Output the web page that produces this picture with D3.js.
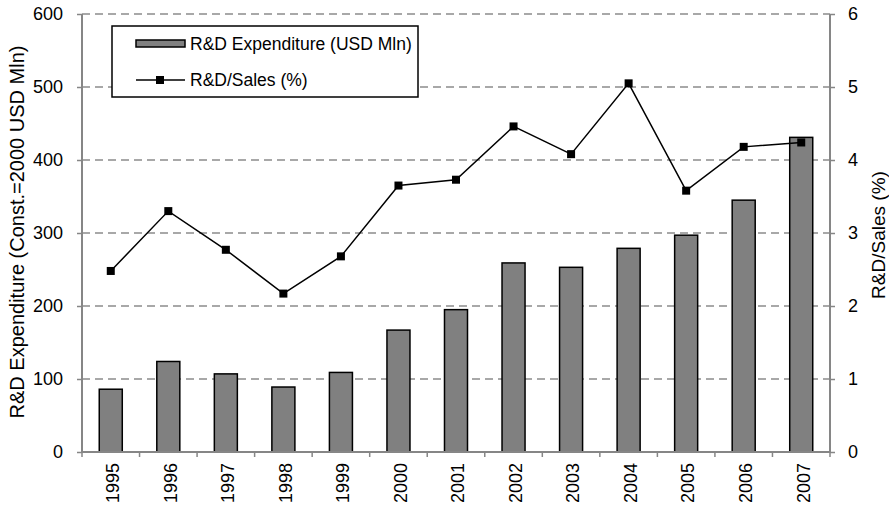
<!DOCTYPE html>
<html>
<head>
<meta charset="utf-8">
<script src="https://cdnjs.cloudflare.com/ajax/libs/d3/7.8.5/d3.min.js"></script>
<style>
  body { margin: 0; background: #fff; }
  text { font-family: "Liberation Sans", Arial, sans-serif; fill: #000; }
</style>
</head>
<body>
<div class="chart"></div>
<script>
  // data
  var years      = ["1995","1996","1997","1998","1999","2000","2001","2002","2003","2004","2005","2006","2007"];
  var expenditure = [86, 124, 107, 89, 109, 167, 195, 259, 253, 279, 297, 345, 431];
  var salesPct    = [2.48, 3.30, 2.77, 2.17, 2.68, 3.65, 3.73, 4.46, 4.08, 5.05, 3.58, 4.18, 4.24];
  var leftTicks   = [0, 100, 200, 300, 400, 500, 600];
  var rightTicks  = [0, 1, 2, 3, 4, 5, 6];

  var width = 889, height = 510;
  var margin = {top: 14, right: 59, bottom: 58, left: 82};
  var innerW = width - margin.left - margin.right,
      innerH = height - margin.top - margin.bottom;

  var svg = d3.select(".chart").append("svg")
      .attr("width", width).attr("height", height);
  var g = svg.append("g")
      .attr("transform", "translate(" + margin.left + "," + margin.top + ")");

  var x = d3.scaleBand().domain(years).range([0, innerW]).paddingInner(0.6).paddingOuter(0.3);
  var xBand = d3.scaleBand().domain(years).range([0, innerW]);
  var yL = d3.scaleLinear().domain([0, 600]).range([innerH, 0]);
  var yR = d3.scaleLinear().domain([0, 6]).range([innerH, 0]);

  // gridlines
  g.selectAll("line.grid").data(leftTicks.slice(1)).enter().append("line")
      .attr("class", "grid")
      .attr("x1", 0).attr("x2", innerW)
      .attr("y1", function(d){ return yL(d); }).attr("y2", function(d){ return yL(d); })
      .attr("stroke", "#8c8c8c").attr("stroke-width", 1.5)
      .attr("stroke-dasharray", "8,5");

  // bars
  g.selectAll("rect.bar").data(expenditure).enter().append("rect")
      .attr("class", "bar")
      .attr("x", function(d, i){ return x(years[i]); })
      .attr("width", x.bandwidth())
      .attr("y", function(d){ return yL(d); })
      .attr("height", function(d){ return innerH - yL(d); })
      .attr("fill", "#808080").attr("stroke", "#000").attr("stroke-width", 1.5);

  // line
  var line = d3.line()
      .x(function(d, i){ return xBand(years[i]) + xBand.bandwidth() / 2; })
      .y(function(d){ return yR(d); });
  g.append("path").datum(salesPct)
      .attr("d", line).attr("fill", "none").attr("stroke", "#000").attr("stroke-width", 1.5);
  g.selectAll("rect.mark").data(salesPct).enter().append("rect")
      .attr("class", "mark")
      .attr("x", function(d, i){ return xBand(years[i]) + xBand.bandwidth() / 2 - 4; })
      .attr("y", function(d){ return yR(d) - 4; })
      .attr("width", 8).attr("height", 8).attr("fill", "#000");

  // axes
  var axisColor = "#868686";
  var leftAxis = g.append("g").call(d3.axisLeft(yL).tickValues(leftTicks).tickSize(5).tickPadding(14));
  var rightAxis = g.append("g").attr("transform", "translate(" + innerW + ",0)")
      .call(d3.axisRight(yR).tickValues(rightTicks).tickFormat(d3.format("d")).tickSize(5).tickPadding(13));
  var bottomAxis = g.append("g").attr("transform", "translate(0," + innerH + ")")
      .call(d3.axisBottom(xBand).tickSize(0).tickPadding(0));

  [leftAxis, rightAxis, bottomAxis].forEach(function(a){
    a.select(".domain").attr("stroke", axisColor).attr("stroke-width", 2);
    a.selectAll(".tick line").attr("stroke", axisColor).attr("stroke-width", 1.5);
    a.selectAll("text").style("font-size", "18px").attr("fill", "#000");
  });
  leftAxis.select(".domain").attr("d", "M0," + innerH + "V0");
  rightAxis.select(".domain").attr("d", "M0," + innerH + "V0");
  bottomAxis.select(".domain").attr("d", "M0,0H" + innerW);

  // category boundary ticks on x axis
  g.selectAll("line.xtick").data(d3.range(years.length + 1)).enter().append("line")
      .attr("class", "xtick")
      .attr("x1", function(d){ return d * xBand.step(); })
      .attr("x2", function(d){ return d * xBand.step(); })
      .attr("y1", innerH).attr("y2", innerH + 5)
      .attr("stroke", axisColor).attr("stroke-width", 1.5);

  bottomAxis.selectAll(".tick text")
      .attr("transform", "rotate(-90)")
      .attr("x", -11).attr("y", 2).attr("dy", "0.35em")
      .style("text-anchor", "end");

  // axis titles
  svg.append("text")
      .attr("transform", "translate(24,232) rotate(-90)")
      .style("text-anchor", "middle").style("font-size", "20px")
      .text("R&D Expenditure (Const.=2000 USD Mln)");
  svg.append("text")
      .attr("transform", "translate(885,235) rotate(-90)")
      .style("text-anchor", "middle").style("font-size", "19px")
      .text("R&D/Sales (%)");

  // legend
  var legend = svg.append("g").attr("transform", "translate(112,26)");
  legend.append("rect").attr("width", 306).attr("height", 71)
      .attr("fill", "#fff").attr("stroke", "#000").attr("stroke-width", 1.5);
  legend.append("rect").attr("x", 24).attr("y", 14).attr("width", 49).attr("height", 7)
      .attr("fill", "#808080").attr("stroke", "#000").attr("stroke-width", 1.5);
  legend.append("text").attr("x", 78).attr("y", 24).style("font-size", "17.5px")
      .text("R&D Expenditure (USD Mln)");
  legend.append("line").attr("x1", 24).attr("x2", 73).attr("y1", 54).attr("y2", 54)
      .attr("stroke", "#000").attr("stroke-width", 1.5);
  legend.append("rect").attr("x", 44).attr("y", 50).attr("width", 8).attr("height", 8).attr("fill", "#000");
  legend.append("text").attr("x", 78).attr("y", 60).style("font-size", "17.5px")
      .text("R&D/Sales (%)");
</script>
</body>
</html>
